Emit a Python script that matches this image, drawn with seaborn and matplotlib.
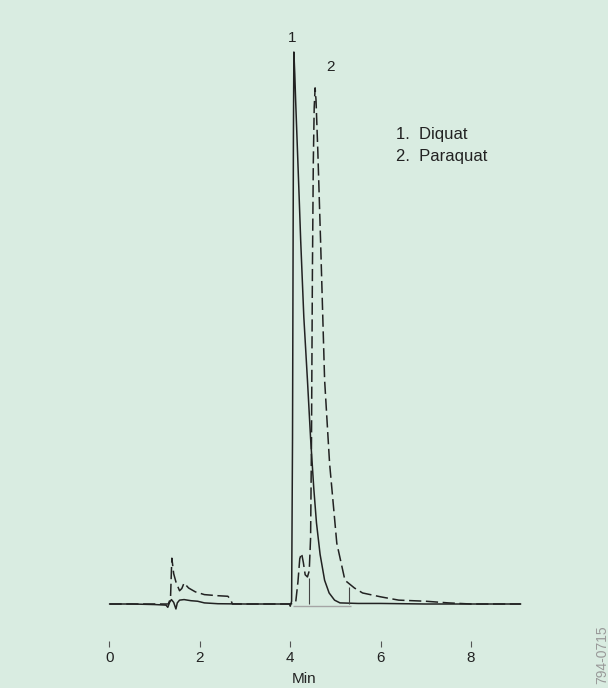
import numpy as np
import pandas as pd
import matplotlib
matplotlib.use("Agg")
import matplotlib.pyplot as plt
import seaborn as sns

# ---- data ----
t_diquat = [0.0, 0.5, 1.0, 1.25, 1.29, 1.33, 1.37, 1.42, 1.47, 1.50, 1.55, 1.65, 1.80, 1.95,
            2.1, 2.4, 3.0, 3.5, 3.98, 4.0, 4.03, 4.05, 4.07, 4.08, 4.10, 4.12, 4.16, 4.20,
            4.23, 4.30, 4.38, 4.45, 4.52, 4.58, 4.66, 4.76, 4.86, 4.98, 5.10, 5.5, 6.0,
            7.0, 8.0, 9.1]
h_diquat = [0, 0, -0.1, -0.2, -0.6, 0.3, 0.8, 0.3, -0.9, 0.2, 0.7, 0.8, 0.6, 0.5,
            0.2, 0.05, 0, 0, 0, -0.4, 0.5, 30, 85, 100, 96, 91, 82, 73,
            66, 52, 40.6, 30, 21, 14.7, 9, 4.3, 2, 0.7, 0.2, 0.1, 0.1,
            0, 0, 0]

t_paraquat = [0.0, 0.5, 1.0, 1.30, 1.35, 1.37, 1.38, 1.42, 1.47, 1.55, 1.60, 1.65, 1.75,
              1.90, 2.10, 2.40, 2.62, 2.68, 2.72, 3.0, 3.5, 4.0, 4.12, 4.17, 4.21, 4.25,
              4.29, 4.33, 4.38, 4.42, 4.45, 4.47, 4.49, 4.51, 4.53, 4.55, 4.57, 4.61,
              4.67, 4.76, 4.87, 5.03, 5.21, 5.42, 5.60, 6.0, 6.4, 7.0, 7.5, 8.0, 9.1]
h_paraquat = [0, 0, 0, 0, 1, 6, 8.3, 5.5, 4, 2.4, 2.8, 3.8, 2.9,
              2.2, 1.7, 1.5, 1.4, 0.8, 0, 0, 0, 0, 0.3, 4, 8.2, 9.2,
              7.5, 5.3, 4.9, 6, 12, 30, 60, 80, 90, 93.5, 91.3, 82,
              66, 40.6, 25.5, 11, 4.3, 2.9, 2.0, 1.3, 0.7, 0.5, 0.2, 0, 0]

drop_times = [4.41, 5.30]
drop_heights = [4.7, 3.1]
integ_start, integ_end = 4.05, 5.35

x_ticks = [0, 2, 4, 6, 8]
x_label = "Min"
peak_labels = ["1", "2"]
peak_label_pos = [(4.05, 102.5), (4.88, 97.3)]
legend_lines = ["1.  Diquat", "2.  Paraquat"]
code_text = "794-0715"

# ---- style ----
bg = "#d9ece1"
sns.set_theme(style="white")
plt.rcParams["font.family"] = ["Liberation Sans", "DejaVu Sans"]

fig = plt.figure(figsize=(6.08, 6.88), dpi=100, facecolor=bg)
ax = fig.add_axes([0, (688 - 647) / 688, 1, 647 / 688])
ax.set_facecolor(bg)

df1 = pd.DataFrame({"t": t_diquat, "h": h_diquat})
df2 = pd.DataFrame({"t": t_paraquat, "h": h_paraquat})

sns.lineplot(data=df1, x="t", y="h", ax=ax, color="#222222", lw=1.1, sort=False)
sns.lineplot(data=df2, x="t", y="h", ax=ax, color="#222222", lw=1.1, sort=False,
             dashes=False, linestyle=(0, (8, 3)))

# integration marks
ax.vlines(drop_times, 0, drop_heights, color="#444444", lw=0.8)
ax.hlines(-0.3, integ_start, integ_end, color="#a5a5a5", lw=1.0)

# axes
ax.set_xlim(-109.5 / 45.19, (608 - 109.5) / 45.19)
ax.set_ylim(-43 / 5.52, 604 / 5.52)
for s in ax.spines.values():
    s.set_visible(False)
ax.set_yticks([])
ax.set_xticks(x_ticks)
ax.set_xticklabels([str(v) for v in x_ticks])
ax.tick_params(axis="x", direction="in", length=4.5, width=0.8, color="#555555",
               labelsize=11, labelcolor="#222222", pad=3, bottom=True)
ax.set_xlabel(x_label, fontsize=11, color="#222222", labelpad=5)
ax.set_ylabel("")

for lab, (px, py) in zip(peak_labels, peak_label_pos):
    ax.text(px, py, lab, fontsize=11, color="#222222", ha="center", va="center")

for i, line in enumerate(legend_lines):
    fig.text(396 / 608, 1 - (135 + 21 * i) / 688, line, fontsize=12, color="#222222",
             ha="left", va="center")

fig.text(602 / 608, 1 - 684 / 688, code_text, fontsize=10, color="#999999",
         rotation=90, ha="center", va="bottom")

fig.savefig("out.png", dpi=100, facecolor=bg)
